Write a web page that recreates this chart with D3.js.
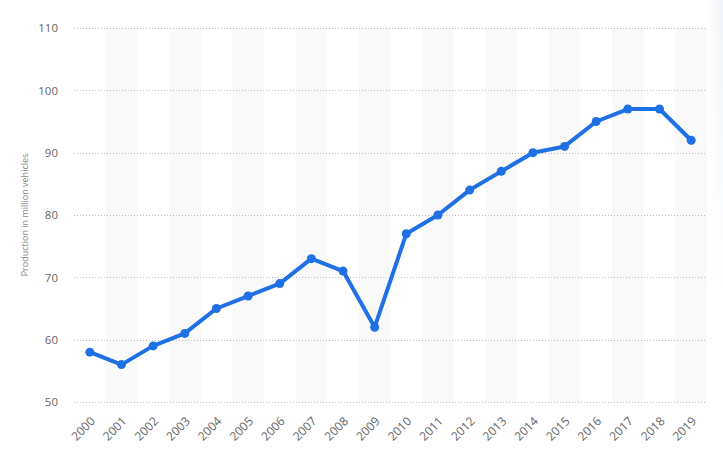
<!DOCTYPE html>
<html>
<head>
<meta charset="utf-8">
<script src="https://cdn.jsdelivr.net/npm/d3@7"></script>
<style>
  body { margin: 0; background: #fff; }
  text { font-family: "Open Sans", "DejaVu Sans", sans-serif; }
</style>
</head>
<body>
<div id="chart"></div>
<script>
const width = 723;
const height = 459;
const margin = {top: 28, right: 16, bottom: 57, left: 74};

const years = ["2000", "2001", "2002", "2003", "2004", "2005", "2006", "2007", "2008", "2009",
               "2010", "2011", "2012", "2013", "2014", "2015", "2016", "2017", "2018", "2019"];
const production = [58, 56, 59, 61, 65, 67, 69, 73, 71, 62, 77, 80, 84, 87, 90, 91, 95, 97, 97, 92];
const yTicks = [50, 60, 70, 80, 90, 100, 110];

const svg = d3.select("#chart").append("svg")
  .attr("width", width)
  .attr("height", height);

const x = d3.scaleBand().domain(years).range([margin.left, width - margin.right]);
const y = d3.scaleLinear().domain([50, 110]).range([height - margin.bottom, margin.top]);

// right edge shadow
const defs = svg.append("defs");
const grad = defs.append("linearGradient").attr("id", "edge").attr("x1", 0).attr("x2", 1).attr("y1", 0).attr("y2", 0);
grad.append("stop").attr("offset", "0%").attr("stop-color", "#eef2f8").attr("stop-opacity", 0);
grad.append("stop").attr("offset", "100%").attr("stop-color", "#eef2f8").attr("stop-opacity", 0.9);
const gradV = defs.append("linearGradient").attr("id", "edgeMask").attr("x1", 0).attr("x2", 0).attr("y1", 0).attr("y2", 1);
gradV.append("stop").attr("offset", "0%").attr("stop-color", "#fff").attr("stop-opacity", 1);
gradV.append("stop").attr("offset", "100%").attr("stop-color", "#fff").attr("stop-opacity", 0);
defs.append("mask").attr("id", "fadeMask")
  .append("rect").attr("x", width - margin.right).attr("y", 0)
  .attr("width", margin.right).attr("height", 300).attr("fill", "url(#edgeMask)");
svg.append("rect")
  .attr("x", width - margin.right).attr("y", 0)
  .attr("width", margin.right).attr("height", 300)
  .attr("fill", "url(#edge)")
  .attr("mask", "url(#fadeMask)");

// alternating column bands
svg.append("g").selectAll("rect")
  .data(years.filter((d, i) => i % 2 === 1))
  .join("rect")
  .attr("x", d => x(d))
  .attr("y", y(110))
  .attr("width", x.bandwidth())
  .attr("height", y(50) - y(110))
  .attr("fill", "#f9f9f9");

// gridlines
svg.append("g").selectAll("line")
  .data(yTicks)
  .join("line")
  .attr("x1", margin.left)
  .attr("x2", width - margin.right)
  .attr("y1", d => Math.round(y(d)) + 0.5)
  .attr("y2", d => Math.round(y(d)) + 0.5)
  .attr("stroke", "#bbbbbb")
  .attr("stroke-width", 1)
  .attr("stroke-dasharray", "1 2");

// y axis labels
const yAxis = svg.append("g")
  .attr("transform", `translate(${margin.left},0)`)
  .call(d3.axisLeft(y).tickValues(yTicks).tickSize(0).tickPadding(16));
yAxis.select(".domain").remove();
yAxis.selectAll("text").attr("fill", "#666").style("font-size", "11.5px");

// x axis labels
const xAxis = svg.append("g")
  .attr("transform", `translate(0,${height - margin.bottom})`)
  .call(d3.axisBottom(x).tickSize(0).tickPadding(0));
xAxis.select(".domain").remove();
xAxis.selectAll("text")
  .attr("fill", "#666")
  .style("font-size", "12px")
  .style("text-anchor", "end")
  .attr("dy", "0.35em")
  .attr("transform", "translate(3,17) rotate(-45)");

// axis title
svg.append("text")
  .attr("transform", `translate(28,${(y(50) + y(110)) / 2}) rotate(-90)`)
  .attr("text-anchor", "middle")
  .attr("fill", "#888")
  .style("font-size", "9px")
  .text("Production in million vehicles");

// line + points
const cx = d => x(d) + x.bandwidth() / 2;
const pts = years.map((d, i) => ({year: d, value: production[i]}));

svg.append("path")
  .datum(pts)
  .attr("fill", "none")
  .attr("stroke", "#1f6fe5")
  .attr("stroke-width", 4)
  .attr("stroke-linejoin", "round")
  .attr("d", d3.line().x(d => cx(d.year)).y(d => y(d.value)));

svg.append("g").selectAll("circle")
  .data(pts)
  .join("circle")
  .attr("cx", d => cx(d.year))
  .attr("cy", d => y(d.value))
  .attr("r", 4.5)
  .attr("fill", "#1f6fe5");
</script>
</body>
</html>
